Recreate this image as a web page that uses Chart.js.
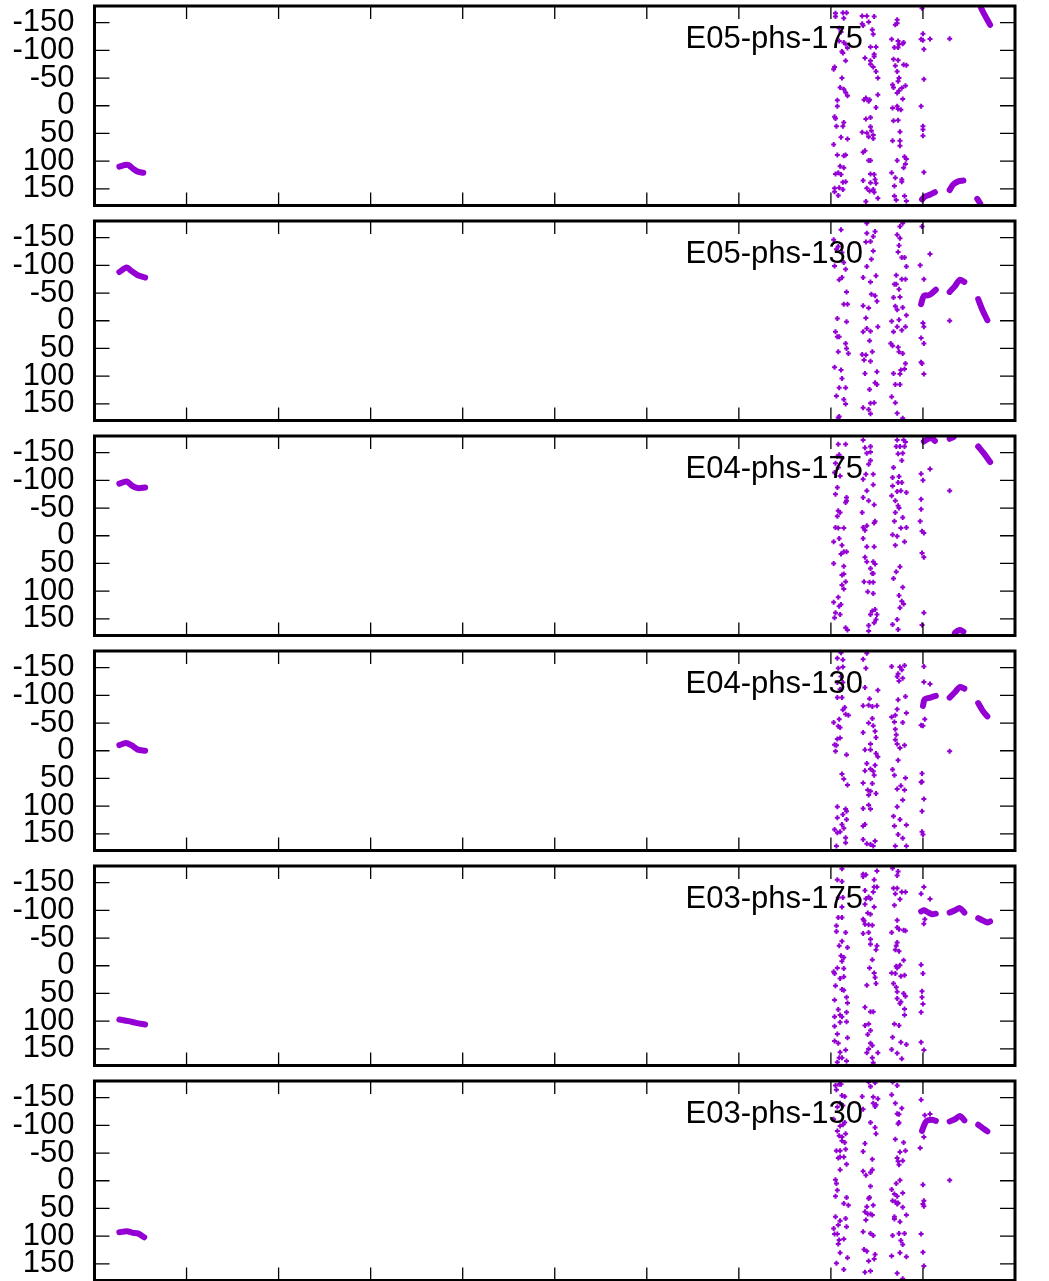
<!DOCTYPE html>
<html>
<head>
<meta charset="utf-8">
<script src="https://cdn.jsdelivr.net/npm/chart.js@4.4.1/dist/chart.umd.min.js"></script>
<style>
  html, body { margin: 0; padding: 0; background: #fff; overflow: hidden; }
  .panel { position: absolute; left: 0; width: 1049px; height: 215px; }
</style>
</head>
<body>
<div id="wrap"></div>
<script>
// panel titles, top to bottom
const panelTitles = ["E05-phs-175", "E05-phs-130", "E04-phs-175", "E04-phs-130", "E03-phs-175", "E03-phs-130"];
const xTicks = [0, 1, 2, 3, 4, 5, 6, 7, 8, 9, 10];
const yTicks = [-150, -100, -50, 0, 50, 100, 150];

// ---- E05-phs-175 ----
const e05p175Left = [[0.27,110],[0.33,107],[0.37,107],[0.40,111],[0.43,115],[0.47,119],[0.53,121]];
const e05p175Tracks = [
  [[8.99,169],[9.02,164],[9.08,160],[9.13,156]],
  [[9.29,152],[9.33,142],[9.39,136],[9.44,135]],
  [[9.59,168],[9.62,176],[9.63,180]],
  [[9.63,-180],[9.63,-177],[9.67,-164],[9.73,-146]]
];
const e05p175Scatter = [
  [8.05,-167],[8.05,-161],[8.13,-168],[8.17,-168],[8.14,-158],[8.09,-140],[8.11,-133],[8.09,-117],[8.14,-114],[8.16,-111],
  [8.18,-104],[8.12,-98],[8.13,-95],[8.16,-81],[8.04,-70],[8.03,-66],[8.12,-50],[8.10,-33],[8.14,-30],[8.16,-24],
  [8.18,-18],[8.07,-10],[8.07,1],[8.04,20],[8.05,23],[8.06,37],[8.14,30],[8.13,37],[8.11,57],[8.18,60],
  [8.03,70],[8.07,89],[8.14,90],[8.16,89],[8.10,109],[8.14,112],[8.05,123],[8.08,121],[8.11,124],[8.13,138],
  [8.16,137],[8.04,149],[8.09,148],[8.04,155],[8.13,151],[8.08,162],
  [8.34,-162],[8.39,-162],[8.47,-161],[8.41,-151],[8.34,-148],[8.35,-145],[8.45,-137],[8.46,-129],[8.43,-106],[8.49,-106],
  [8.47,-93],[8.47,-89],[8.37,-86],[8.43,-81],[8.43,-75],[8.46,-70],[8.49,-62],[8.51,-50],[8.36,-11],[8.38,-14],
  [8.42,-11],[8.41,-8],[8.51,-20],[8.49,3],[8.38,24],[8.43,21],[8.34,48],[8.39,49],[8.43,38],[8.44,45],
  [8.46,53],[8.41,56],[8.46,59],[8.35,84],[8.37,81],[8.41,99],[8.43,99],[8.47,124],[8.43,123],[8.35,135],
  [8.48,133],[8.49,140],[8.43,139],[8.39,149],[8.42,154],[8.46,151],[8.47,156],[8.38,173],[8.51,167],
  [8.72,-155],[8.70,-146],[8.72,-149],[8.66,-120],[8.73,-117],[8.79,-114],[8.74,-111],[8.69,-105],[8.73,-105],[8.78,-112],
  [8.68,-84],[8.73,-82],[8.79,-74],[8.82,-73],[8.70,-72],[8.72,-62],[8.74,-50],[8.73,-44],[8.67,-38],[8.68,-33],
  [8.81,-36],[8.77,-32],[8.74,-27],[8.72,-23],[8.78,-12],[8.67,4],[8.72,1],[8.73,6],[8.76,7],[8.73,26],
  [8.68,27],[8.75,47],[8.67,63],[8.75,63],[8.75,72],[8.80,92],[8.82,96],[8.72,99],[8.81,105],[8.79,112],
  [8.66,121],[8.70,130],[8.77,133],[8.77,137],[8.69,145],[8.69,163],[8.80,163],[8.71,170],[8.82,172],
  [8.99,-176],[9.00,-130],[8.98,-120],[9.00,-118],[9.01,-102],[9.29,-121],[9.01,-48],[8.98,1],[9.00,37],[9.00,43],
  [9.00,54],[9.01,120]
];

// ---- E05-phs-130 ----
const e05p130Left = [[0.27,-88],[0.35,-96],[0.40,-90],[0.47,-82],[0.55,-78]];
const e05p130Tracks = [
  [[8.98,-30],[9.01,-45],[9.06,-46],[9.10,-50],[9.14,-56]],
  [[9.29,-52],[9.35,-63],[9.40,-74],[9.45,-70]],
  [[9.60,-39],[9.65,-18],[9.70,-1]]
];
const e05p130Scatter = [
  [8.11,-164],[8.03,-146],[8.08,-134],[8.06,-129],[8.12,-123],[8.04,-99],[8.14,-105],[8.16,-93],[8.12,-78],[8.09,-74],
  [8.17,-52],[8.14,-30],[8.18,-30],[8.07,-4],[8.17,2],[8.05,20],[8.07,29],[8.09,29],[8.16,41],[8.08,56],
  [8.17,50],[8.19,59],[8.04,84],[8.11,89],[8.12,104],[8.09,121],[8.16,121],[8.06,136],[8.14,142],[8.16,150],
  [8.08,175],[8.09,173],
  [8.39,-176],[8.39,-158],[8.48,-161],[8.46,-152],[8.43,-143],[8.38,-142],[8.46,-126],[8.44,-111],[8.39,-98],[8.49,-81],
  [8.35,-78],[8.43,-70],[8.50,-35],[8.44,-48],[8.48,-45],[8.35,-27],[8.41,-23],[8.38,-5],[8.51,11],[8.35,20],
  [8.39,14],[8.43,19],[8.42,36],[8.34,61],[8.38,62],[8.45,56],[8.43,73],[8.36,71],[8.50,92],[8.37,95],
  [8.48,112],[8.42,124],[8.50,115],[8.47,148],[8.43,149],[8.35,157],[8.41,160],[8.43,168],
  [8.78,-176],[8.75,-170],[8.72,-155],[8.75,-149],[8.74,-136],[8.73,-124],[8.77,-114],[8.80,-114],[8.82,-98],[8.71,-82],
  [8.77,-75],[8.81,-75],[8.69,-66],[8.71,-66],[8.74,-57],[8.68,-42],[8.75,-43],[8.70,-26],[8.72,-20],[8.78,-24],
  [8.82,-10],[8.74,-2],[8.66,1],[8.72,11],[8.77,17],[8.68,20],[8.81,11],[8.65,41],[8.67,45],[8.73,48],
  [8.74,56],[8.78,59],[8.81,77],[8.76,89],[8.80,87],[8.68,95],[8.75,96],[8.70,115],[8.75,115],[8.66,137],
  [8.70,148],[8.72,167],[8.78,176],
  [8.99,-170],[8.97,-100],[9.01,-75],[9.00,4],[9.01,11],[8.98,31],[9.01,41],[8.99,77],[8.98,75],[9.01,96],
  [9.29,0]
];

// ---- E04-phs-175 ----
const e04p175Left = [[0.27,-94],[0.35,-98],[0.41,-90],[0.47,-86],[0.55,-87]];
const e04p175Tracks = [
  [[9.01,-170],[9.06,-175],[9.10,-176],[9.13,-171]],
  [[9.29,-175],[9.33,-178],[9.34,-180]],
  [[9.34,180],[9.35,175],[9.40,170],[9.44,173]],
  [[9.60,-161],[9.66,-149],[9.73,-133]]
];
const e04p175Scatter = [
  [8.08,-165],[8.16,-165],[8.07,-143],[8.09,-146],[8.12,-140],[8.05,-131],[8.04,-114],[8.08,-123],[8.10,-108],[8.07,-87],
  [8.05,-75],[8.17,-69],[8.16,-60],[8.17,-63],[8.08,-45],[8.07,-35],[8.10,-42],[8.05,-15],[8.08,-14],[8.14,-14],
  [8.09,5],[8.03,11],[8.12,17],[8.14,29],[8.17,29],[8.11,33],[8.03,50],[8.14,55],[8.12,71],[8.14,69],
  [8.16,83],[8.12,89],[8.14,96],[8.08,111],[8.03,120],[8.09,127],[8.11,124],[8.05,139],[8.10,142],[8.04,148],
  [8.16,166],[8.18,170],
  [8.35,-173],[8.37,-159],[8.43,-161],[8.39,-149],[8.43,-151],[8.43,-136],[8.41,-129],[8.38,-111],[8.46,-111],[8.35,-102],
  [8.46,-92],[8.39,-81],[8.35,-69],[8.41,-63],[8.47,-56],[8.34,-42],[8.48,-26],[8.47,-23],[8.35,-15],[8.39,-18],
  [8.37,-10],[8.35,5],[8.39,20],[8.47,20],[8.37,39],[8.39,47],[8.46,47],[8.48,51],[8.43,59],[8.45,68],
  [8.46,68],[8.42,84],[8.46,84],[8.36,83],[8.40,101],[8.46,104],[8.48,133],[8.45,136],[8.43,142],[8.50,142],
  [8.49,151],[8.41,162],[8.47,157],[8.41,172],
  [8.72,-173],[8.79,-173],[8.81,-169],[8.71,-161],[8.75,-161],[8.80,-161],[8.73,-148],[8.78,-149],[8.77,-136],[8.68,-123],
  [8.74,-107],[8.67,-105],[8.73,-96],[8.77,-96],[8.67,-90],[8.72,-80],[8.76,-81],[8.82,-78],[8.66,-72],[8.70,-63],
  [8.73,-54],[8.74,-50],[8.70,-42],[8.78,-33],[8.69,-26],[8.82,-15],[8.76,-14],[8.67,-2],[8.72,1],[8.80,11],
  [8.70,17],[8.75,56],[8.71,65],[8.68,77],[8.78,93],[8.74,108],[8.77,118],[8.79,123],[8.75,130],[8.72,151],
  [8.67,160],[8.73,169],
  [8.98,-112],[9.00,-100],[8.98,-66],[8.98,-48],[8.97,-26],[8.99,-8],[9.01,-5],[8.99,31],[9.01,39],[9.01,139],
  [8.99,161],[9.29,-81]
];

// ---- E04-phs-130 ----
const e04p130Left = [[0.27,-10],[0.34,-14],[0.40,-10],[0.47,-2],[0.55,0]];
const e04p130Tracks = [
  [[9.00,-81],[9.02,-93],[9.08,-96],[9.14,-99]],
  [[9.29,-96],[9.35,-106],[9.40,-115],[9.45,-112]],
  [[9.60,-86],[9.65,-72],[9.70,-62]]
];
const e04p130Scatter = [
  [8.11,-177],[8.07,-167],[8.13,-164],[8.08,-149],[8.13,-151],[8.11,-134],[8.07,-123],[8.13,-123],[8.10,-111],[8.07,-96],
  [8.12,-96],[8.15,-78],[8.13,-74],[8.09,-57],[8.16,-66],[8.19,-64],[8.03,-51],[8.08,-44],[8.10,-42],[8.07,-21],
  [8.10,-23],[8.04,-11],[8.06,-10],[8.05,1],[8.17,7],[8.12,42],[8.14,51],[8.18,62],[8.07,101],[8.16,105],
  [8.17,109],[8.13,115],[8.07,121],[8.17,124],[8.12,133],[8.14,140],[8.04,142],[8.07,148],[8.10,146],[8.16,157],
  [8.06,172],[8.16,166],
  [8.39,-176],[8.35,-165],[8.38,-149],[8.37,-114],[8.51,-109],[8.42,-94],[8.35,-81],[8.41,-82],[8.45,-80],[8.50,-81],
  [8.45,-58],[8.41,-50],[8.46,-45],[8.48,-35],[8.35,-33],[8.49,-24],[8.43,-12],[8.37,-2],[8.43,-2],[8.49,5],
  [8.51,11],[8.39,23],[8.48,26],[8.43,33],[8.37,36],[8.46,37],[8.47,44],[8.35,58],[8.45,59],[8.40,71],
  [8.43,73],[8.49,77],[8.41,80],[8.35,104],[8.41,98],[8.43,105],[8.37,133],[8.35,136],[8.35,160],[8.39,168],
  [8.43,169],[8.46,172],[8.48,163],
  [8.66,-152],[8.75,-151],[8.80,-154],[8.77,-146],[8.73,-139],[8.78,-131],[8.72,-134],[8.74,-126],[8.81,-98],[8.73,-92],
  [8.72,-75],[8.66,-61],[8.70,-64],[8.69,-52],[8.82,-68],[8.78,-51],[8.70,-39],[8.71,-29],[8.70,-20],[8.72,-12],
  [8.75,-5],[8.80,-10],[8.73,17],[8.67,34],[8.69,44],[8.81,49],[8.72,69],[8.76,63],[8.80,71],[8.78,89],
  [8.72,101],[8.68,118],[8.75,124],[8.82,134],[8.69,136],[8.73,151],[8.78,158],[8.70,172],[8.82,172],
  [9.01,-152],[9.01,-124],[8.98,-46],[9.02,-57],[9.00,-45],[8.99,41],[8.99,56],[8.98,57],[9.01,87],[8.99,109],
  [8.99,146],[9.00,151],[9.29,1]
];

// ---- E03-phs-175 ----
const e03p175Left = [[0.27,97],[0.37,100],[0.45,103],[0.55,106]];
const e03p175Tracks = [
  [[8.98,-98],[9.01,-100],[9.06,-96],[9.10,-93],[9.14,-94]],
  [[9.29,-96],[9.35,-100],[9.40,-104],[9.45,-96]],
  [[9.60,-86],[9.66,-81],[9.70,-78],[9.73,-80]]
];
const e03p175Scatter = [
  [8.12,-175],[8.07,-155],[8.12,-152],[8.08,-123],[8.13,-123],[8.12,-106],[8.08,-87],[8.12,-87],[8.06,-72],[8.06,-62],
  [8.16,-60],[8.12,-44],[8.09,-36],[8.18,-33],[8.11,-18],[8.14,-15],[8.12,-8],[8.07,4],[8.14,5],[8.04,14],
  [8.03,11],[8.10,23],[8.14,20],[8.05,36],[8.14,44],[8.12,43],[8.17,57],[8.04,62],[8.18,67],[8.08,79],
  [8.17,84],[8.10,89],[8.04,92],[8.12,92],[8.17,101],[8.10,102],[8.04,109],[8.07,123],[8.18,130],[8.04,136],
  [8.08,140],[8.16,152],[8.10,156],[8.09,166],[8.12,166],[8.07,174],[8.17,172],
  [8.35,-165],[8.38,-164],[8.50,-171],[8.47,-155],[8.35,-161],[8.47,-142],[8.50,-142],[8.46,-133],[8.37,-136],[8.41,-124],
  [8.38,-121],[8.43,-121],[8.37,-111],[8.47,-106],[8.40,-95],[8.43,-93],[8.35,-84],[8.36,-81],[8.37,-75],[8.41,-74],
  [8.45,-73],[8.35,-58],[8.41,-60],[8.43,-48],[8.43,-39],[8.50,-36],[8.49,-29],[8.45,-11],[8.42,4],[8.47,13],
  [8.48,21],[8.39,35],[8.49,32],[8.37,75],[8.43,83],[8.46,83],[8.37,108],[8.41,105],[8.43,117],[8.40,124],
  [8.43,140],[8.45,144],[8.41,150],[8.51,157],[8.39,157],[8.45,166],[8.46,175],
  [8.67,-176],[8.73,-170],[8.72,-163],[8.68,-140],[8.72,-140],[8.70,-130],[8.77,-133],[8.81,-133],[8.69,-109],[8.75,-120],
  [8.72,-82],[8.72,-69],[8.74,-66],[8.79,-64],[8.81,-63],[8.66,-60],[8.72,-42],[8.71,-36],[8.70,-29],[8.74,-26],
  [8.79,-10],[8.71,1],[8.75,-1],[8.72,4],[8.70,14],[8.66,13],[8.76,19],[8.80,17],[8.68,32],[8.71,39],
  [8.72,47],[8.79,50],[8.81,55],[8.72,59],[8.76,65],[8.75,68],[8.80,78],[8.80,89],[8.74,108],[8.69,105],
  [8.67,129],[8.76,138],[8.82,142],[8.66,151],[8.72,158],[8.77,168],
  [9.01,-142],[8.98,-130],[9.01,-76],[9.02,-84],[8.98,-2],[9.00,14],[8.99,46],[8.99,57],[9.00,69],[8.98,84],
  [8.98,138],[9.01,152]
];

// ---- E03-phs-130 ----
const e03p130Left = [[0.27,93],[0.35,91],[0.42,94],[0.47,95],[0.54,102]];
const e03p130Tracks = [
  [[8.99,-90],[9.01,-99],[9.04,-108],[9.10,-110],[9.14,-108]],
  [[9.29,-107],[9.35,-111],[9.40,-117],[9.45,-109]],
  [[9.60,-101],[9.65,-95],[9.70,-89]]
];
const e03p130Scatter = [
  [8.05,-172],[8.09,-174],[8.11,-174],[8.06,-164],[8.12,-154],[8.15,-152],[8.10,-140],[8.13,-136],[8.07,-133],[8.03,-111],
  [8.15,-105],[8.10,-99],[8.13,-101],[8.07,-90],[8.16,-85],[8.09,-81],[8.12,-79],[8.12,-72],[8.15,-69],[8.06,-54],
  [8.10,-54],[8.16,-57],[8.08,-41],[8.10,-43],[8.14,-43],[8.17,-30],[8.10,-20],[8.05,-2],[8.06,5],[8.07,17],
  [8.05,28],[8.17,30],[8.14,41],[8.19,44],[8.05,65],[8.10,72],[8.16,68],[8.08,80],[8.17,83],[8.03,86],
  [8.07,96],[8.09,107],[8.04,96],[8.08,114],[8.14,105],[8.10,130],[8.18,139],[8.06,149],[8.14,160],
  [8.41,-178],[8.48,-177],[8.43,-170],[8.34,-152],[8.46,-151],[8.46,-140],[8.51,-148],[8.49,-137],[8.48,-134],[8.35,-129],
  [8.43,-105],[8.48,-96],[8.49,-85],[8.37,-67],[8.35,-53],[8.45,-39],[8.35,-17],[8.45,-20],[8.43,-15],[8.38,-10],
  [8.43,10],[8.41,32],[8.42,30],[8.46,44],[8.39,47],[8.37,56],[8.43,60],[8.45,62],[8.38,71],[8.40,60],
  [8.35,92],[8.43,95],[8.46,99],[8.36,124],[8.39,127],[8.48,133],[8.47,141],[8.41,145],[8.37,165],[8.43,163],
  [8.67,-178],[8.72,-172],[8.66,-155],[8.70,-140],[8.77,-131],[8.72,-121],[8.74,-120],[8.74,-105],[8.73,-103],[8.70,-75],
  [8.79,-69],[8.75,-52],[8.81,-54],[8.72,-41],[8.73,-35],[8.78,-36],[8.74,-29],[8.75,-1],[8.71,5],[8.66,16],
  [8.69,24],[8.72,28],[8.78,22],[8.67,36],[8.70,38],[8.72,42],[8.73,40],[8.78,48],[8.69,65],[8.75,74],
  [8.82,62],[8.69,69],[8.67,99],[8.74,95],[8.80,95],[8.76,108],[8.78,115],[8.66,136],[8.75,130],[8.82,137],
  [8.72,167],[8.78,177],
  [8.98,-146],[9.02,-118],[8.97,-59],[9.01,-79],[9.29,-1],[9.00,7],[9.01,36],[9.00,42],[9.01,46],[8.98,96],
  [9.00,129],[9.01,154]
];

const VIOLET = "#9400d3";
const FONT = "Liberation Sans, Arial, sans-serif";

const panels = [
  { title: panelTitles[0], left: e05p175Left, tracks: e05p175Tracks, scatter: e05p175Scatter },
  { title: panelTitles[1], left: e05p130Left, tracks: e05p130Tracks, scatter: e05p130Scatter },
  { title: panelTitles[2], left: e04p175Left, tracks: e04p175Tracks, scatter: e04p175Scatter },
  { title: panelTitles[3], left: e04p130Left, tracks: e04p130Tracks, scatter: e04p130Scatter },
  { title: panelTitles[4], left: e03p175Left, tracks: e03p175Tracks, scatter: e03p175Scatter },
  { title: panelTitles[5], left: e03p130Left, tracks: e03p130Tracks, scatter: e03p130Scatter },
];

const toPts = (arr) => arr.map(([x, y]) => ({ x, y }));

// split track segments with a null point so the line breaks between them
function trackData(segs) {
  const out = [];
  segs.forEach((s, i) => {
    if (i > 0) out.push({ x: s[0][0], y: null });
    s.forEach(([x, y]) => out.push({ x, y }));
  });
  return out;
}

// gnuplot style box: thick frame, inward mirrored ticks, key at top right
const gnuFrame = {
  id: "gnuFrame",
  afterDatasetsDraw(chart) {
    const { ctx, chartArea: a, scales } = chart;
    ctx.save();
    ctx.strokeStyle = "#000";
    ctx.lineWidth = 1.3;
    ctx.beginPath();
    xTicks.forEach((v) => {
      const px = scales.x.getPixelForValue(v);
      ctx.moveTo(px, a.top); ctx.lineTo(px, a.top + 13);
      ctx.moveTo(px, a.bottom); ctx.lineTo(px, a.bottom - 13);
    });
    yTicks.forEach((v) => {
      const py = scales.y.getPixelForValue(v);
      ctx.moveTo(a.left, py); ctx.lineTo(a.left + 15, py);
      ctx.moveTo(a.right, py); ctx.lineTo(a.right - 15, py);
    });
    ctx.stroke();
    ctx.lineWidth = 3;
    ctx.strokeRect(a.left, a.top, a.right - a.left, a.bottom - a.top);

    // key: title text and one sample point
    const kx = a.right - 152, ky = a.top + 33;
    ctx.font = "31px " + FONT;
    ctx.fillStyle = "#000";
    ctx.textAlign = "right";
    ctx.textBaseline = "middle";
    ctx.fillText(chart.data.datasets[0].label, kx, ky);
    ctx.strokeStyle = VIOLET;
    ctx.lineWidth = 2;
    ctx.beginPath();
    ctx.moveTo(a.right - 87.5, ky); ctx.lineTo(a.right - 82.5, ky);
    ctx.moveTo(a.right - 85, ky - 2.5); ctx.lineTo(a.right - 85, ky + 2.5);
    ctx.stroke();
    ctx.restore();
  },
};

const wrap = document.getElementById("wrap");
panels.forEach((p, i) => {
  const div = document.createElement("div");
  div.className = "panel";
  div.style.top = (215 * i) + "px";
  const cv = document.createElement("canvas");
  cv.width = 1049; cv.height = 215;
  div.appendChild(cv);
  wrap.appendChild(div);

  new Chart(cv, {
    type: "scatter",
    data: {
      datasets: [
        {
          label: p.title,
          data: toPts(p.scatter),
          pointStyle: "cross",
          pointRadius: 2.5,
          pointBorderWidth: 2,
          borderColor: VIOLET,
          backgroundColor: VIOLET,
          showLine: false,
        },
        {
          label: p.title + " start",
          data: toPts(p.left),
          showLine: true,
          borderColor: VIOLET,
          borderWidth: 6,
          borderCapStyle: "round",
          borderJoinStyle: "round",
          tension: 0.3,
          pointRadius: 0,
        },
        {
          label: p.title + " tracks",
          data: trackData(p.tracks),
          showLine: true,
          spanGaps: false,
          borderColor: VIOLET,
          borderWidth: 6,
          borderCapStyle: "round",
          borderJoinStyle: "round",
          tension: 0.3,
          pointRadius: 0,
        },
      ],
    },
    options: {
      responsive: false,
      animation: false,
      devicePixelRatio: 1,
      layout: { padding: { top: 5, right: 34, left: 0, bottom: 0 } },
      plugins: { legend: { display: false }, tooltip: { enabled: false } },
      scales: {
        x: {
          type: "linear",
          min: 0,
          max: 10,
          ticks: { display: false },
          grid: { display: false, drawTicks: false },
          border: { display: false },
          afterFit(s) {
            s.height = 9.5;
            s.paddingLeft = 0; s.paddingRight = 0; s.paddingTop = 0; s.paddingBottom = 0;
          },
        },
        y: {
          min: -180,
          max: 180,
          reverse: true,
          afterBuildTicks(s) { s.ticks = yTicks.map((v) => ({ value: v })); },
          ticks: {
            autoSkip: false,
            padding: 20,
            color: "#000",
            font: { family: FONT, size: 31 },
          },
          grid: { display: false, drawTicks: false },
          border: { display: false },
          afterFit(s) {
            s.width = 94.5;
            s.paddingTop = 0; s.paddingBottom = 0; s.paddingLeft = 0; s.paddingRight = 0;
          },
        },
      },
    },
    plugins: [gnuFrame],
  });
});
</script>
</body>
</html>
